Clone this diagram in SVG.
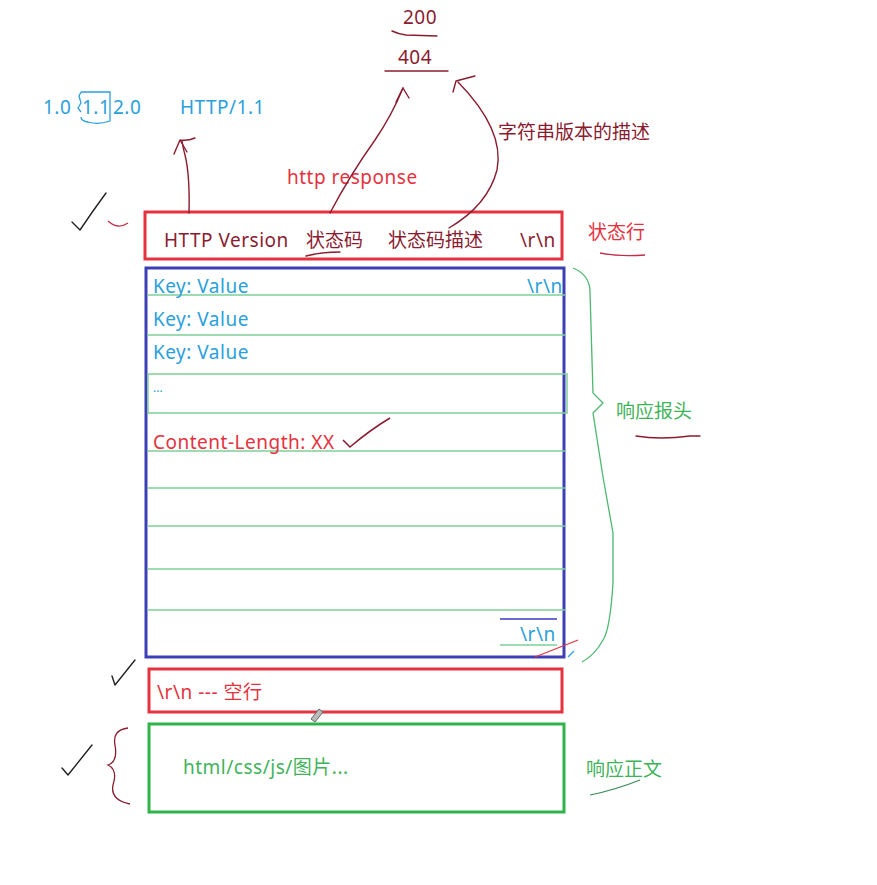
<svg xmlns="http://www.w3.org/2000/svg" width="877" height="885" viewBox="0 0 877 885">
<style>
text{font-family:"Noto Sans","Noto Sans CJK SC","Liberation Sans",sans-serif;font-size:19px}
.ls{letter-spacing:0.5px}
.blue{fill:#2aa0dc}
.mar{fill:#8a1c30}
.red{fill:#e5323e}
.grn{fill:#3fb35a}
.ink{fill:none;stroke:#8a1c30;stroke-width:1.4;stroke-linecap:round;stroke-linejoin:round}
.blk{fill:none;stroke:#222;stroke-width:1.4;stroke-linecap:round;stroke-linejoin:round}
.row{stroke:#7fcf98;stroke-width:1.5;fill:none}
</style>
<rect width="877" height="885" fill="#fff"/>

<g id="codes">
<text x="403" y="24" class="mar ls">200</text>
<path d="M392,31 Q398,34 406,35 L437,36" class="ink"/>
<text x="398" y="64" class="mar ls">404</text>
<path d="M385,71 L448,71" class="ink"/>
</g>

<g id="versions">
<text x="43" y="114" class="blue ls">1.0</text>
<text x="82" y="114" class="blue ls">1.1</text>
<text x="113" y="114" class="blue ls">2.0</text>
<path d="M81,92 L110,92 L110,121 Q98,125 88,122 Q81,121 81,117 M81,92 L79,96 L81,103 L78,108 L81,112" fill="none" stroke="#2aa0dc" stroke-width="1.3"/>
<text x="180" y="114" class="blue ls">HTTP/1.1</text>
</g>

<g id="desc-label"><text x="498" y="139" class="mar">字符串版本的描述</text></g>
<g id="http-response"><text x="287" y="184" class="red ls">http response</text></g>

<g id="status-line">
<rect x="145" y="212" width="417" height="47" fill="none" stroke="#e5323e" stroke-width="3"/>
<text x="164" y="247" class="mar ls">HTTP Version</text>
<text x="306" y="247" class="mar">状态码</text>
<text x="388" y="247" class="mar">状态码描述</text>
<text x="520" y="247" class="mar ls">\r\n</text>
</g>
<g id="status-label">
<text x="588" y="239" class="red">状态行</text>
<path d="M600,253 Q620,257 645,255" fill="none" stroke="#c0304a" stroke-width="1.3"/>
</g>

<g id="headers">
<rect x="146" y="268" width="418" height="389" fill="none" stroke="#3c3fb5" stroke-width="3"/>
<path d="M147,295 H565 M147,335 H565 M147,451 H565 M147,488 H565 M147,526 H565 M147,569 H565 M147,610 H565" class="row"/>
<rect x="148" y="374" width="419" height="39" class="row"/>
<path d="M500,645 H557" class="row"/>
<path d="M500,619 H557" stroke="#6a6ad0" stroke-width="2"/>
<text x="153" y="293" class="blue ls">Key: Value</text>
<text x="527" y="293" class="blue ls">\r\n</text>
<text x="153" y="326" class="blue ls">Key: Value</text>
<text x="153" y="359" class="blue ls">Key: Value</text>
<text x="153" y="392" class="blue" style="font-size:12px">...</text>
<text x="153" y="449" class="red ls">Content-Length: XX</text>
<text x="520" y="641" class="blue ls">\r\n</text>
</g>
<g id="header-label">
<text x="616" y="418" class="grn">响应报头</text>
<path d="M636,436 Q660,440 690,436 L700,436" class="ink"/>
</g>

<g id="empty-line">
<rect x="149" y="669" width="413" height="43" fill="none" stroke="#e5323e" stroke-width="3"/>
<text x="157" y="699" class="red ls">\r\n --- 空行</text>
</g>

<g id="body">
<rect x="149" y="724" width="415" height="88" fill="none" stroke="#2fb34a" stroke-width="3"/>
<text x="183" y="774" class="grn ls">html/css/js/图片...</text>
</g>
<g id="body-label">
<text x="586" y="776" class="grn">响应正文</text>
<path d="M590,795 Q615,790 640,780" fill="none" stroke="#3a8a5a" stroke-width="1.2"/>
</g>

<g id="connectors">
<path d="M189,213 Q190,175 185,155 Q183,148 182,141" class="ink"/>
<path d="M174,154 L180,140 L187,152 M180,140 Q188,141 195,138" class="ink"/>
<path d="M330,213 Q350,175 375,140 Q392,115 403,88" class="ink"/>
<path d="M396,102 L403,88 L409,98" class="ink"/>
<path d="M449,228 Q488,205 497,170 Q505,130 458,82" class="ink"/>
<path d="M453,92 L456,81 L475,76" class="ink"/>
</g>

<g id="annotations">
<path d="M72,222 L80,230 Q92,212 106,193" class="blk"/>
<path d="M108,221 Q118,230 128,223" fill="none" stroke="#c0304a" stroke-width="1.3"/>
<path d="M306,256 Q322,252 340,252" class="ink"/>
<path d="M343,440 L350,447 Q370,430 390,418" fill="none" stroke="#8a1c30" stroke-width="1.5"/>
<path d="M573,268 Q590,275 590,292 L593,393 L603,403 L593,413 L603,477 L613,533 L613,583 Q610,630 603,640 Q595,655 582,662" fill="none" stroke="#4cb870" stroke-width="1.3"/>
<path d="M535,657 L578,640" stroke="#e5323e" stroke-width="1.2"/>
<path d="M568,657 L574,651" stroke="#2aa0dc" stroke-width="1.2"/>
<path d="M112,676 L115,685 L135,660" class="blk"/>
<path d="M62,768 L68,775 L92,745" class="blk"/>
<path d="M128,728 Q112,730 115,745 Q118,762 108,765 Q118,770 113,785 Q110,800 130,804" fill="none" stroke="#8a1c30" stroke-width="1.3"/>
<path d="M311,719 L319,709 L323,712 L315,722 Z" fill="#bbb" stroke="#666" stroke-width="1"/>
</g>
</svg>
